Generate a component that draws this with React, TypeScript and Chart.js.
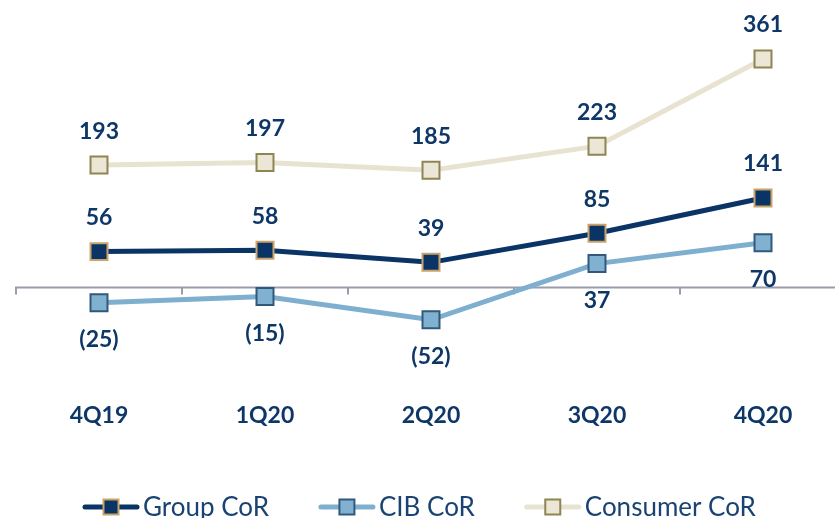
import React, { useEffect, useRef } from "react";
import { Chart, registerables } from "chart.js";

Chart.register(...registerables);

const categories = ["4Q19", "1Q20", "2Q20", "3Q20", "4Q20"];
const groupCoR = [56, 58, 39, 85, 141];
const cibCoR = [-25, -15, -52, 37, 70];
const consumerCoR = [193, 197, 185, 223, 361];
const seriesNames = ["Group CoR", "CIB CoR", "Consumer CoR"];

const NAVY = "#0b3466";
const TEXT = "#0e3768";
const LEGEND_TEXT = "#1a4373";
const FONT = "Lato, 'Noto Sans', sans-serif";

const fmt = (v: number) => (v < 0 ? `(${Math.abs(v)})` : `${v}`);

const zeroAxisPlugin = {
  id: "zeroAxis",
  beforeDatasetsDraw(chart: any) {
    const { ctx, chartArea, scales } = chart;
    const x = scales.x;
    const y = scales.y;
    const y0 = Math.round(y.getPixelForValue(0)) + 0.5;
    const n = categories.length;
    const step = n > 1 ? x.getPixelForValue(1) - x.getPixelForValue(0) : chartArea.width;
    ctx.save();
    ctx.strokeStyle = "#9a9cae";
    ctx.lineWidth = 2;
    ctx.beginPath();
    ctx.moveTo(chartArea.left, y0);
    ctx.lineTo(chartArea.right, y0);
    for (let i = 0; i <= n; i++) {
      const bx = Math.round(x.getPixelForValue(0) - step / 2 + i * step);
      ctx.moveTo(bx, y0 - 1);
      ctx.lineTo(bx, y0 + 7);
    }
    ctx.stroke();
    ctx.restore();
  },
};

const dataLabelPlugin = {
  id: "pointLabels",
  afterDatasetsDraw(chart: any, _args: any, opts: any) {
    const { ctx } = chart;
    ctx.save();
    ctx.font = `bold 23px ${FONT}`;
    ctx.fillStyle = TEXT;
    ctx.textAlign = "center";
    ctx.textBaseline = "middle";
    chart.data.datasets.forEach((ds: any, di: number) => {
      const meta = chart.getDatasetMeta(di);
      const off = opts.offsets[di];
      meta.data.forEach((pt: any, i: number) => {
        ctx.fillText(fmt(ds.data[i]), pt.x, pt.y + off);
      });
    });
    ctx.restore();
  },
};

const legendPlugin = {
  id: "lineLegend",
  afterDraw(chart: any, _args: any, opts: any) {
    const { ctx, chartArea } = chart;
    const y = opts.y;
    let x = chartArea.left + opts.startOffset;
    ctx.save();
    ctx.font = `26px ${FONT}`;
    ctx.textBaseline = "middle";
    ctx.textAlign = "left";
    chart.data.datasets.forEach((ds: any) => {
      ctx.strokeStyle = ds.borderColor;
      ctx.lineWidth = 5;
      ctx.lineCap = "round";
      ctx.beginPath();
      ctx.moveTo(x + 2, y);
      ctx.lineTo(x + 54, y);
      ctx.stroke();
      const s = 15;
      ctx.fillStyle = ds.pointBackgroundColor;
      ctx.fillRect(x + 28 - s / 2, y - s / 2, s, s);
      ctx.strokeStyle = ds.pointBorderColor;
      ctx.lineWidth = 2;
      ctx.lineCap = "butt";
      ctx.strokeRect(x + 28 - s / 2, y - s / 2, s, s);
      ctx.fillStyle = LEGEND_TEXT;
      ctx.fillText(ds.label, x + 60, y + 1);
      x += 60 + ctx.measureText(ds.label).width + 50;
    });
    ctx.restore();
  },
};

export default function App() {
  const ref = useRef<HTMLCanvasElement | null>(null);

  useEffect(() => {
    document.documentElement.style.overflow = "hidden";
    document.body.style.overflow = "hidden";
    document.body.style.margin = "0";
    if (!ref.current) return;
    const common = {
      borderWidth: 5,
      pointStyle: "rect" as const,
      pointRadius: 12,
      pointHoverRadius: 12,
      pointBorderWidth: 2,
      tension: 0,
      clip: false as any,
    };
    const chart = new Chart(ref.current, {
      type: "line",
      data: {
        labels: categories,
        datasets: [
          {
            ...common,
            label: seriesNames[0],
            data: groupCoR,
            borderColor: NAVY,
            pointBackgroundColor: NAVY,
            pointBorderColor: "#c9a367",
          },
          {
            ...common,
            label: seriesNames[1],
            data: cibCoR,
            borderColor: "#7fafcf",
            pointBackgroundColor: "#80b1d1",
            pointBorderColor: "#32597c",
          },
          {
            ...common,
            label: seriesNames[2],
            data: consumerCoR,
            borderColor: "#e8e3d1",
            pointBackgroundColor: "#ebe6d6",
            pointBorderColor: "#8e8553",
          },
        ],
      },
      options: {
        responsive: false,
        animation: false,
        layout: { padding: { top: 34.4, bottom: 90, left: 16, right: 5 } },
        plugins: {
          legend: { display: false },
          tooltip: { enabled: false },
          pointLabels: { offsets: [-34, 37, -34] },
          lineLegend: { y: 507, startOffset: 67 },
        } as any,
        scales: {
          x: {
            offset: true,
            grid: { display: false, drawTicks: false },
            border: { display: false },
            afterFit: (s: any) => {
              s.height = 40;
            },
            ticks: {
              autoSkip: false,
              maxRotation: 0,
              padding: 14,
              color: TEXT,
              font: { family: FONT, size: 23, weight: "bold" },
            },
          },
          y: {
            display: false,
            min: -160,
            max: 400,
          },
        },
      },
      plugins: [zeroAxisPlugin, dataLabelPlugin, legendPlugin],
    });
    return () => chart.destroy();
  }, []);

  return (
    <div style={{ position: "absolute", left: 0, top: 0, width: 860, height: 518 }}>
      <canvas ref={ref} width={860} height={518} />
    </div>
  );
}
